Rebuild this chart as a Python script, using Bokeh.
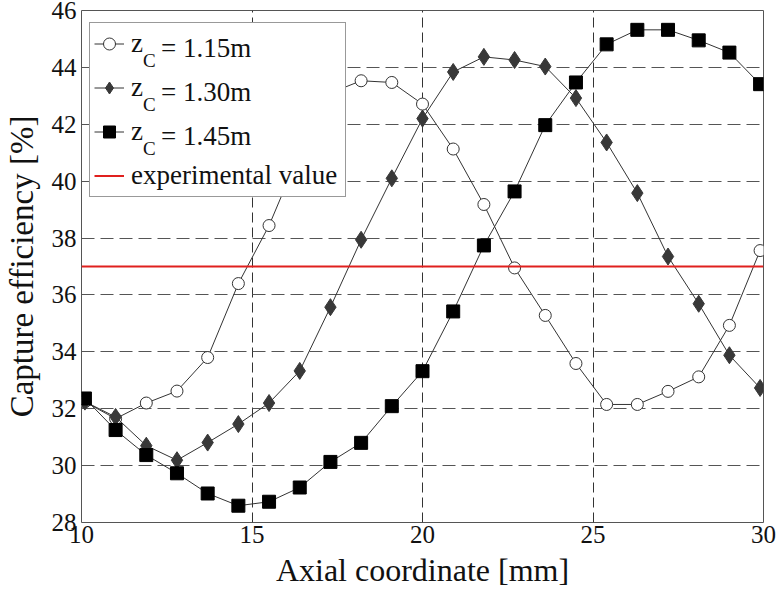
import math
from bokeh.plotting import figure
from bokeh.models import Legend, LegendItem, FixedTicker, Range1d
from bokeh.embed import file_html
from bokeh.resources import INLINE

# ---- data ----
axial_mm = [10.1, 11.0, 11.9, 12.8, 13.7, 14.6, 15.5, 16.4, 17.3, 18.2, 19.1, 20.0,
            20.9, 21.8, 22.7, 23.6, 24.5, 25.4, 26.3, 27.2, 28.1, 29.0, 29.9]
eff_115 = [32.24, 31.65, 32.2, 32.62, 33.8, 36.4, 38.44, 41.0, 43.1, 43.53, 43.47, 42.71,
           41.13, 39.18, 36.95, 35.28, 33.59, 32.15, 32.15, 32.61, 33.12, 34.93, 37.56]
eff_130 = [32.25, 31.71, 30.7, 30.19, 30.81, 31.46, 32.2, 33.33, 35.57, 37.94, 40.1, 42.2,
           43.84, 44.37, 44.26, 44.03, 42.92, 41.36, 39.58, 37.35, 35.69, 33.88, 32.73]
eff_145 = [32.36, 31.25, 30.37, 29.73, 29.02, 28.59, 28.73, 29.23, 30.13, 30.8, 32.09, 33.32,
           35.42, 37.74, 39.64, 41.97, 43.47, 44.81, 45.32, 45.32, 44.95, 44.52, 43.41]
exp_x = [10, 30]
exp_y = [37.0, 37.0]
series_values = ["1.15m", "1.30m", "1.45m"]
x_ticks = [10, 15, 20, 25, 30]
y_ticks = [28, 30, 32, 34, 36, 38, 40, 42, 44, 46]
x_title = "Axial coordinate [mm]"
y_title = "Capture efficiency [%]"

FONT = "Liberation Serif"
TXT = "#111111"

X0, X1 = 10, 30
Y0, Y1 = 28, 46

p = figure(width=780, height=592, x_range=Range1d(X0, X1), y_range=Range1d(Y0, Y1),
           output_backend="svg", toolbar_location=None,
           min_border_left=80, min_border_right=17, min_border_top=10, min_border_bottom=70)
p.background_fill_color = "white"
p.border_fill_color = "white"
p.outline_line_color = "#555555"
p.outline_line_width = 1

for ax in (p.xaxis[0], p.yaxis[0]):
    ax.axis_line_color = None
    ax.major_tick_out = 0
    ax.major_tick_in = 0
    ax.minor_tick_out = 0
    ax.minor_tick_in = 0
    ax.major_label_text_font = FONT
    ax.major_label_text_font_size = "25px"
    ax.major_label_text_color = TXT
    ax.axis_label_text_font = FONT
    ax.axis_label_text_font_style = "normal"
    ax.axis_label_text_color = TXT

p.xaxis.ticker = FixedTicker(ticks=x_ticks)
p.yaxis.ticker = FixedTicker(ticks=y_ticks)
p.xaxis.axis_label = x_title
p.yaxis.axis_label = y_title
p.xaxis.axis_label_text_font_size = "32px"
p.yaxis.axis_label_text_font_size = "33px"
p.xaxis.major_label_standoff = 3
p.xaxis.axis_label_standoff = 6
p.yaxis.major_label_standoff = 5
p.yaxis.axis_label_text_line_height = 1.0
p.yaxis.axis_label_standoff = 9

p.xgrid.grid_line_color = "#333333"
p.xgrid.grid_line_dash = "10 5"
p.xgrid.grid_line_width = 1
p.ygrid.grid_line_color = "#555555"
p.ygrid.grid_line_dash = "13 6"
p.ygrid.grid_line_width = 1

LC = "#333333"
l1 = p.line(axial_mm, eff_115, line_color=LC, line_width=1)
s1 = p.scatter(axial_mm, eff_115, marker="circle", size=12, fill_color="white", line_color=LC, line_width=1)
l2 = p.line(axial_mm, eff_130, line_color=LC, line_width=1)
s2 = p.scatter(axial_mm, eff_130, marker="diamond", size=17, fill_color="#383838", line_color="#383838")
l3 = p.line(axial_mm, eff_145, line_color=LC, line_width=1)
s3 = p.scatter(axial_mm, eff_145, marker="square", size=13, fill_color="black", line_color="black")
le = p.line(exp_x, exp_y, line_color="#e0201e", line_width=2)


def style(lg, size, baseline="middle"):
    lg.label_text_font = FONT
    lg.label_text_font_size = size
    lg.label_text_color = TXT
    lg.label_text_baseline = baseline
    lg.label_height = 33
    lg.glyph_height = 33
    lg.spacing = 11
    lg.margin = 0


# main legend (box, symbols, "z" and the last entry)
legend = Legend(items=[
    LegendItem(label="z", renderers=[l1, s1]),
    LegendItem(label="z", renderers=[l2, s2]),
    LegendItem(label="z", renderers=[l3, s3]),
    LegendItem(label="experimental value", renderers=[le]),
], location=(8, 325), level="glyph")
style(legend, "27px")
legend.glyph_width = 30
legend.label_width = 210
legend.label_standoff = 7
legend.padding = 4
legend.border_line_color = "#333333"
legend.border_line_width = 1
legend.background_fill_color = "white"
legend.background_fill_alpha = 1.0
p.add_layout(legend)

# subscript "C" of each z_C (transparent legend drawn over the main one)
sub_legend = Legend(items=[LegendItem(label="C", renderers=[r]) for r in (l1, l2, l3)],
                    location=(62, 357))
style(sub_legend, "19px", "alphabetic")
sub_legend.glyph_width = 0
sub_legend.label_width = 0
sub_legend.label_standoff = 0
sub_legend.padding = 0
sub_legend.border_line_color = None
sub_legend.background_fill_alpha = 0.0
p.add_layout(sub_legend)

# "= value" part of each entry
val_legend = Legend(items=[LegendItem(label="= " + v, renderers=[r])
                           for v, r in zip(series_values, (l1, l2, l3))],
                    location=(80, 369))
style(val_legend, "27px")
val_legend.glyph_width = 0
val_legend.label_width = 0
val_legend.label_standoff = 0
val_legend.padding = 4
val_legend.border_line_color = None
val_legend.background_fill_alpha = 0.0
p.add_layout(val_legend)

open("out.html", "w").write(file_html(p, INLINE))
